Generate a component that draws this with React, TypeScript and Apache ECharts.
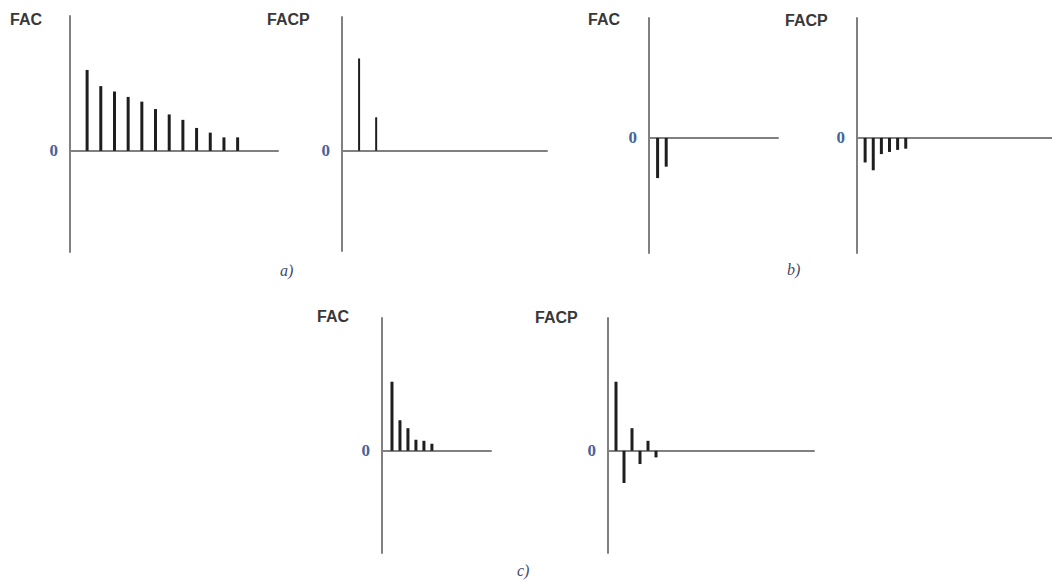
import React, { useEffect, useRef } from "react";
import * as echarts from "echarts";

// Lags and correlation values
const lagsA_FAC = [1, 2, 3, 4, 5, 6, 7, 8, 9, 10, 11, 12];
const valsA_FAC = [0.6, 0.48, 0.44, 0.4, 0.365, 0.31, 0.27, 0.23, 0.17, 0.135, 0.1, 0.1];
const lagsA_FACP = [1, 2];
const valsA_FACP = [0.69, 0.25];
const lagsB_FAC = [1, 2];
const valsB_FAC = [-0.335, -0.24];
const lagsB_FACP = [1, 2, 3, 4, 5, 6];
const valsB_FACP = [-0.205, -0.27, -0.135, -0.117, -0.1, -0.09];
const lagsC_FAC = [1, 2, 3, 4, 5, 6];
const valsC_FAC = [0.52, 0.23, 0.17, 0.083, 0.075, 0.053];
const lagsC_FACP = [1, 2, 3, 4, 5, 6];
const valsC_FACP = [0.52, -0.243, 0.17, -0.1, 0.075, -0.05];

const panelTitles = ["FAC", "FACP", "FAC", "FACP", "FAC", "FACP"];
const captions = ["a)", "b)", "c)"];

const AXIS_COLOR = "#808080";
const BAR_COLOR = "#1e1e1e";
const ZERO_COLOR = "#4a6398";

type Panel = {
  lags: number[];
  vals: number[];
  grid: { left: number; top: number; width: number; height: number };
  xMin: number;
  xMax: number;
  yMin: number;
  yMax: number;
  barWidth: number;
  title: { left: number; top: number };
};

const panels: Panel[] = [
  { lags: lagsA_FAC, vals: valsA_FAC, grid: { left: 70, top: 16, width: 208, height: 236 }, xMin: -0.25, xMax: 14.95, yMin: -0.75, yMax: 1, barWidth: 3, title: { left: 10, top: 11 } },
  { lags: lagsA_FACP, vals: valsA_FACP, grid: { left: 342, top: 17, width: 205, height: 234 }, xMin: 0, xMax: 12, yMin: -0.75, yMax: 1, barWidth: 2, title: { left: 267, top: 11 } },
  { lags: lagsB_FAC, vals: valsB_FAC, grid: { left: 649, top: 18, width: 129, height: 235 }, xMin: 0, xMax: 15, yMin: -0.96, yMax: 1, barWidth: 3, title: { left: 588, top: 11 } },
  { lags: lagsB_FACP, vals: valsB_FACP, grid: { left: 857, top: 18, width: 195, height: 235 }, xMin: 0, xMax: 24, yMin: -0.96, yMax: 1, barWidth: 3, title: { left: 785, top: 12 } },
  { lags: lagsC_FAC, vals: valsC_FAC, grid: { left: 382, top: 318, width: 109, height: 235 }, xMin: -0.25, xMax: 13.4, yMin: -0.77, yMax: 1, barWidth: 3, title: { left: 317, top: 308 } },
  { lags: lagsC_FACP, vals: valsC_FACP, grid: { left: 608, top: 318, width: 206, height: 235 }, xMin: 0, xMax: 25.75, yMin: -0.77, yMax: 1, barWidth: 3, title: { left: 535, top: 309 } },
];

const captionPos = [
  { left: 280, top: 262 },
  { left: 787, top: 261 },
  { left: 517, top: 562 },
];

export default function App() {
  const ref = useRef<HTMLDivElement>(null);
  useEffect(() => {
    if (!ref.current) return;
    const chart = echarts.init(ref.current, undefined, { renderer: "svg" });

    const titles: any[] = panels.map((p, i) => ({
      text: panelTitles[i],
      left: p.title.left,
      top: p.title.top,
      padding: 0,
      textStyle: { fontFamily: "Liberation Sans", fontSize: 16, fontWeight: "bold", color: "#383838" },
    }));
    captions.forEach((c, i) => {
      titles.push({
        text: c,
        left: captionPos[i].left,
        top: captionPos[i].top,
        padding: 0,
        textStyle: { fontFamily: "Liberation Serif", fontSize: 16, fontStyle: "italic", fontWeight: "normal", color: "#3f4a68" },
      });
    });

    const option: any = {
      animation: false,
      backgroundColor: "#ffffff",
      title: titles,
      grid: panels.map((p) => ({ ...p.grid })),
      xAxis: panels.map((p, i) => ({
        type: "value",
        gridIndex: i,
        min: p.xMin,
        max: p.xMax,
        axisLine: { show: true, onZero: true, lineStyle: { color: AXIS_COLOR, width: 2 } },
        axisTick: { show: false },
        axisLabel: { show: false },
        splitLine: { show: false },
      })),
      yAxis: panels.map((p, i) => ({
        type: "value",
        gridIndex: i,
        min: p.yMin,
        max: p.yMax,
        interval: -p.yMin,
        axisLine: { show: true, onZero: false, lineStyle: { color: AXIS_COLOR, width: 2 } },
        axisTick: { show: false },
        splitLine: { show: false },
        axisLabel: {
          show: true,
          margin: 12,
          formatter: (v: number) => (Math.abs(v) < 1e-9 ? "0" : ""),
          fontFamily: "Liberation Serif",
          fontWeight: "bold",
          fontSize: 17,
          color: ZERO_COLOR,
        },
      })),
      series: panels.map((p, i) => ({
        type: "bar",
        xAxisIndex: i,
        yAxisIndex: i,
        barWidth: p.barWidth,
        itemStyle: { color: BAR_COLOR },
        data: p.lags.map((l, k) => [l, p.vals[k]]),
      })),
    };
    chart.setOption(option);
    return () => chart.dispose();
  }, []);
  return (
    <div
      ref={ref}
      style={{ position: "fixed", left: 0, top: 0, width: 1052, height: 580, background: "#fff" }}
    />
  );
}
